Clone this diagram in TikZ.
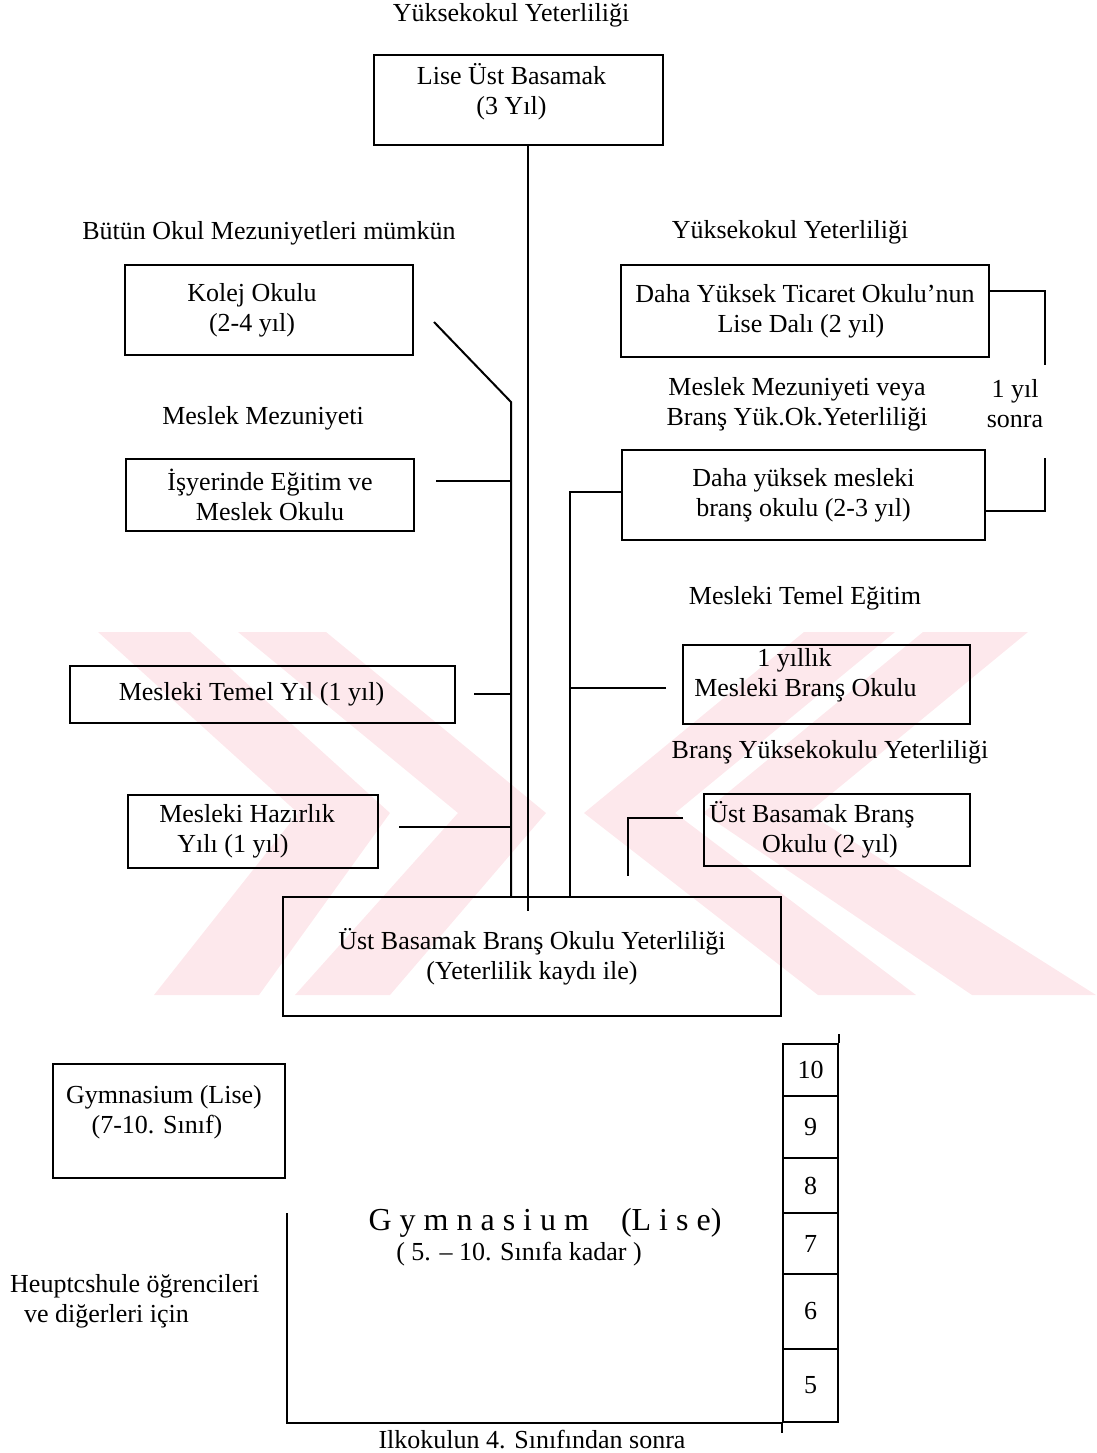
\documentclass[tikz,border=0pt]{standalone}
\usepackage{fontspec}
\setmainfont{Liberation Serif}
\usetikzlibrary{positioning}
\definecolor{wmpink}{RGB}{253,232,236}

\begin{document}
\begin{tikzpicture}[
    x=1pt, y=-1pt,
    every node/.style={font=\fontsize{26}{30}\selectfont, align=center, inner sep=0pt},
    box/.style n args={2}{draw, line width=2pt, minimum width=#1, minimum height=#2},
    cell/.style={draw, line width=1.8pt, minimum width=55pt},
    conn/.style={line width=2pt}
    ]
    \useasboundingbox (0,0) rectangle (1096,1453);

    \begin{scope}
    \clip (0,632) rectangle (1096,995);
    \fill[wmpink] (98,632) -- (190,632) -- (390,813) -- (259,995) -- (154,995) -- (298,813) -- cycle;
    \fill[wmpink] (238,632) -- (326,632) -- (546,813) -- (390,995) -- (295,995) -- (458,813) -- cycle;
    \fill[wmpink] (804,632) -- (895,632) -- (675,813) -- (916,995) -- (818,995) -- (584,813) -- cycle;
    \fill[wmpink] (923,632) -- (1028,632) -- (808,813) -- (1096,995) -- (972,995) -- (703,813) -- cycle;
    \end{scope}

    \node (tyy) at (511,15) {Yüksekokul Yeterliliği};
    \node[box={289pt}{90pt}, text depth=22pt] (lise) at (518.5,100) {Lise Üst Basamak\hspace*{14pt}\\(3 Yıl)\hspace*{14pt}};

    \node (lbom) at (269,233) {Bütün Okul Mezuniyetleri mümkün};
    \node[box={288pt}{90pt}] (kolej) at (269,310) {Kolej Okulu\hspace*{34pt}\\(2-4 yıl)\hspace*{34pt}};
    \node (lmm) at (263,418) {Meslek Mezuniyeti};
    \node[box={288pt}{72pt}] (isyeri) at (270,495) {İşyerinde Eğitim ve\\Meslek Okulu};
    \node[box={385pt}{57pt}] (temelyil) at (262.5,694.5) {Mesleki Temel Yıl (1 yıl)\hspace*{22pt}};
    \node[box={250pt}{73pt}] (hazirlik) at (253,831.5) {Mesleki Hazırlık\hspace*{12pt}\\Yılı (1 yıl)\hspace*{40pt}};

    \node (lyy) at (790,232) {Yüksekokul Yeterliliği};
    \node[box={368pt}{92pt}] (ticaret) at (805,311) {Daha Yüksek Ticaret Okulu’nun\\Lise Dalı (2 yıl)\hspace*{8pt}};
    \node (lmmv) at (797,404) {Meslek Mezuniyeti veya\\Branş Yük.Ok.Yeterliliği};
    \node (lsonra) at (1015,404) {1 yıl\\sonra};
    \node[box={363pt}{90pt}] (yuksek) at (803.5,495) {Daha yüksek mesleki\\branş okulu (2-3 yıl)};
    \node (lmte) at (805,598) {Mesleki Temel Eğitim};
    \node[box={287pt}{79pt}, text depth=24pt] (yillik) at (826.5,684.5) {1 yıllık\hspace*{64pt}\\Mesleki Branş Okulu\hspace*{42pt}};
    \node (lbyy) at (830,752) {Branş Yüksekokulu Yeterliliği};
    \node[box={266pt}{72pt}] (ustbrans) at (837,830) {Üst Basamak Branş\hspace*{50pt}\\Okulu (2 yıl)\hspace*{14pt}};

    \node[box={498pt}{119pt}] (ubs) at (532,956.5) {Üst Basamak Branş Okulu Yeterliliği\\(Yeterlilik kaydı ile)};

    \coordinate (lkink) at (511,402);
    \coordinate (mend) at (528,911);
    \coordinate (rx) at (570,492);
    \coordinate (ubend) at (628,876);
    \coordinate (brtop) at (1045,365);
    \coordinate (brbot) at (1045,458);

    \draw[conn] ([shift={(20,12)}]kolej.east) -- (lkink) -- (lkink |- ubs.north);
    \draw[conn] (lise.south -| mend) -- (mend);
    \draw[conn] (yuksek.west |- rx) -- (rx) -- (rx |- ubs.north);

    \path ([shift={(21,-14)}]isyeri.east) coordinate (isya);
    \draw[conn] (isya) -- (isya -| lkink);
    \path ([shift={(18,-1)}]temelyil.east) coordinate (tmya);
    \draw[conn] (tmya) -- (tmya -| lkink);
    \path ([shift={(20,-5)}]hazirlik.east) coordinate (hza);
    \draw[conn] (hza) -- (hza -| lkink);
    \path ([shift={(-16,3.5)}]yillik.west) coordinate (yla);
    \draw[conn] (yla) -- (yla -| rx);
    \path ([shift={(-20,-12)}]ustbrans.west) coordinate (uba);
    \draw[conn] (uba) -| (ubend);

    \draw[conn] ([shift={(0,-20)}]ticaret.east) -| (brtop);
    \draw[conn] (brbot) |- ([shift={(0,16)}]yuksek.east);

    \node[box={232pt}{114pt}, text depth=24pt] (gymbox) at (169,1121) {Gymnasium (Lise)\hspace*{10pt}\\(7-10. Sınıf)\hspace*{24pt}};

    \foreach \g/\ya/\yb in {10/1044/1096, 9/1096/1158, 8/1158/1213, 7/1213/1274, 6/1274/1349, 5/1349/1422}
      \node[cell, minimum height={\yb-\ya}] (g\g) at (810.5,{(\ya+\yb)/2}) {\g};
    \draw[conn] (g10.north east) -- ++(0,-9);
    \draw[conn] (g5.south west) -- ++(0,10);

    \coordinate (gtop) at (287,1213);
    \draw[conn] (gtop) |- (g5.south west);

    \node[font=\fontsize{32}{36}\selectfont] (gymt) at (545,1223) {G y m n a s i u m\quad(L i s e)};
    \node (gyms) at (519,1254) {( 5. – 10. Sınıfa kadar )};
    \node[anchor=west, align=left] (haupt) at (10,1301) {Heuptcshule öğrencileri\\\hspace*{14pt}ve diğerleri için};
    \node (ilk) at (532,1440) {Ilkokulun 4. Sınıfından sonra};

  \end{tikzpicture}
\end{document}
